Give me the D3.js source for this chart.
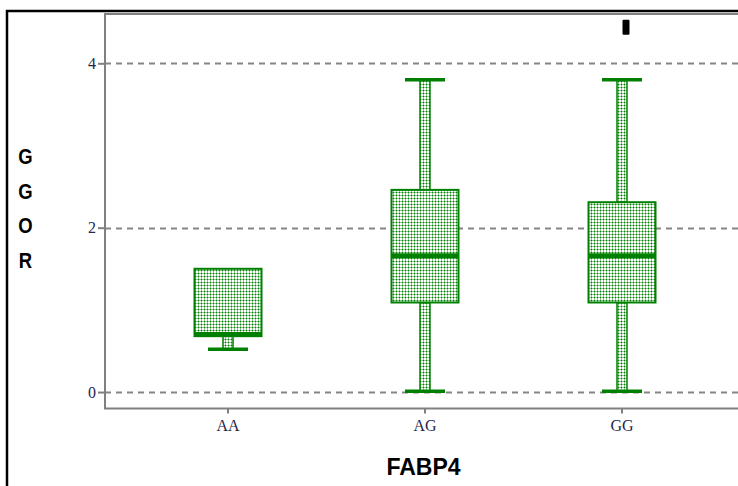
<!DOCTYPE html>
<html>
<head>
<meta charset="utf-8">
<script src="https://cdn.jsdelivr.net/npm/d3@7"></script>
<style>
  body { margin: 0; background: #fff; }
  svg { display: block; }
</style>
</head>
<body>
<svg id="chart" width="738" height="486"></svg>
<script>
var categories = ['AA', 'AG', 'GG'];
var whiskerLow = [0.52, 0.01, 0.01];
var q1 = [0.68, 1.09, 1.09];
var median = [0.70, 1.66, 1.66];
var q3 = [1.50, 2.46, 2.31];
var whiskerHigh = [1.50, 3.80, 3.80];
var outlierCategories = ['GG'];
var outlierValues = [4.44];
var yTicks = [0, 2, 4];
var xTitle = 'FABP4';
var yTitle = 'GGOR';

var green = '#008000';
var gridGray = '#858585';
var axisGray = '#808080';
var labelColor = '#26264a';

var plotLeft = 105;
var plotTop = 14;
var plotBottom = 408.5;
var plotRight = 760;

var svg = d3.select('#chart');

// dotted fill used by the boxes and whisker stems
var pattern = svg.append('defs').append('pattern')
  .attr('id', 'dots')
  .attr('patternUnits', 'userSpaceOnUse')
  .attr('width', 3)
  .attr('height', 3);
pattern.append('rect').attr('width', 3).attr('height', 3).attr('fill', '#fff');
pattern.append('rect').attr('width', 3).attr('height', 1).attr('fill', '#8cc88c');
pattern.append('rect').attr('width', 1).attr('height', 3).attr('fill', '#8cc88c');
pattern.append('rect').attr('x', 0).attr('y', 0).attr('width', 1).attr('height', 1).attr('fill', green);

var y = d3.scaleLinear().domain([-0.2, 4.6]).range([plotBottom, plotTop]);
var x = d3.scaleBand().domain(categories).range([129.5, 720.5]);

function cx(i) {
  return x(categories[i]) + x.bandwidth() / 2;
}

// outer frame
svg.append('rect')
  .attr('x', 7).attr('y', 11)
  .attr('width', 800).attr('height', 600)
  .attr('fill', 'none')
  .attr('stroke', '#000')
  .attr('stroke-width', 2.5);

// grid lines
svg.append('g').selectAll('line')
  .data(yTicks)
  .enter()
  .append('line')
  .attr('x1', plotLeft)
  .attr('x2', 738)
  .attr('y1', function (d) { return Math.round(y(d)) + 0.5; })
  .attr('y2', function (d) { return Math.round(y(d)) + 0.5; })
  .attr('stroke', gridGray)
  .attr('stroke-width', 2)
  .attr('stroke-dasharray', '6,5');

// plot frame
svg.append('rect')
  .attr('x', plotLeft).attr('y', plotTop)
  .attr('width', plotRight - plotLeft)
  .attr('height', plotBottom - plotTop)
  .attr('fill', 'none')
  .attr('stroke', axisGray)
  .attr('stroke-width', 2);

// axes
var yAxis = d3.axisLeft(y)
  .tickValues(yTicks)
  .tickFormat(d3.format('d'))
  .tickSize(7)
  .tickSizeOuter(0)
  .tickPadding(2);
var yAxisG = svg.append('g').attr('transform', 'translate(' + plotLeft + ',0)').call(yAxis);
yAxisG.select('.domain').remove();
yAxisG.selectAll('line').attr('stroke', axisGray).attr('stroke-width', 2);
yAxisG.selectAll('text')
  .attr('font-family', '"Liberation Serif", serif')
  .attr('font-size', 16)
  .attr('fill', labelColor);

var xAxis = d3.axisBottom(x).tickSize(5).tickSizeOuter(0).tickPadding(6);
var xAxisG = svg.append('g').attr('transform', 'translate(0,' + plotBottom + ')').call(xAxis);
xAxisG.select('.domain').remove();
xAxisG.selectAll('line').attr('stroke', axisGray).attr('stroke-width', 2);
xAxisG.selectAll('text')
  .attr('font-family', '"Liberation Serif", serif')
  .attr('font-size', 16)
  .attr('fill', labelColor);

// boxes
var boxWidth = 67;
var capWidth = 40;
var stemWidth = 10;
var idx = d3.range(categories.length);
var boxes = svg.append('g');

boxes.selectAll('.stem-high')
  .data(idx.filter(function (i) { return whiskerHigh[i] > q3[i]; }))
  .enter()
  .append('rect')
  .attr('x', function (i) { return cx(i) - stemWidth / 2; })
  .attr('y', function (i) { return y(whiskerHigh[i]); })
  .attr('width', stemWidth)
  .attr('height', function (i) { return y(q3[i]) - y(whiskerHigh[i]); })
  .attr('fill', 'url(#dots)')
  .attr('stroke', green)
  .attr('stroke-width', 1.5);

boxes.selectAll('.stem-low')
  .data(idx.filter(function (i) { return whiskerLow[i] < q1[i]; }))
  .enter()
  .append('rect')
  .attr('x', function (i) { return cx(i) - stemWidth / 2; })
  .attr('y', function (i) { return y(q1[i]); })
  .attr('width', stemWidth)
  .attr('height', function (i) { return y(whiskerLow[i]) - y(q1[i]); })
  .attr('fill', 'url(#dots)')
  .attr('stroke', green)
  .attr('stroke-width', 1.5);

boxes.selectAll('.box')
  .data(idx)
  .enter()
  .append('rect')
  .attr('x', function (i) { return cx(i) - boxWidth / 2; })
  .attr('y', function (i) { return y(q3[i]); })
  .attr('width', boxWidth)
  .attr('height', function (i) { return y(q1[i]) - y(q3[i]); })
  .attr('fill', 'url(#dots)')
  .attr('stroke', green)
  .attr('stroke-width', 2);

boxes.selectAll('.median')
  .data(idx)
  .enter()
  .append('line')
  .attr('x1', function (i) { return cx(i) - boxWidth / 2; })
  .attr('x2', function (i) { return cx(i) + boxWidth / 2; })
  .attr('y1', function (i) { return y(median[i]); })
  .attr('y2', function (i) { return y(median[i]); })
  .attr('stroke', green)
  .attr('stroke-width', 5);

var caps = [];
idx.forEach(function (i) {
  caps.push({ i: i, v: whiskerLow[i] });
  if (whiskerHigh[i] > q3[i]) caps.push({ i: i, v: whiskerHigh[i] });
});

boxes.selectAll('.cap')
  .data(caps)
  .enter()
  .append('line')
  .attr('x1', function (d) { return cx(d.i) - capWidth / 2; })
  .attr('x2', function (d) { return cx(d.i) + capWidth / 2; })
  .attr('y1', function (d) { return y(d.v); })
  .attr('y2', function (d) { return y(d.v); })
  .attr('stroke', green)
  .attr('stroke-width', 3.5);

// outliers
svg.append('g').selectAll('rect')
  .data(outlierValues)
  .enter()
  .append('rect')
  .attr('x', function (d, j) { return x(outlierCategories[j]) + x.bandwidth() / 2 + 0.5; })
  .attr('y', function (d) { return y(d) - 7.5; })
  .attr('width', 7)
  .attr('height', 15)
  .attr('rx', 1)
  .attr('fill', '#000');

// titles
svg.append('text')
  .attr('x', 423.5)
  .attr('y', 475)
  .attr('text-anchor', 'middle')
  .attr('font-family', '"Liberation Sans", Arial, sans-serif')
  .attr('font-weight', 'bold')
  .attr('font-size', 23)
  .attr('fill', '#000')
  .text(xTitle);

svg.append('g').selectAll('text')
  .data(yTitle.split(''))
  .enter()
  .append('text')
  .attr('transform', function (d, k) {
    return 'translate(25.5,' + (164 + k * 34.5) + ') scale(0.88,1.05)';
  })
  .attr('text-anchor', 'middle')
  .attr('font-family', '"Liberation Sans", sans-serif')
  .attr('font-weight', 'bold')
  .attr('font-size', 21)
  .attr('fill', '#000')
  .text(function (d) { return d; });
</script>
</body>
</html>
